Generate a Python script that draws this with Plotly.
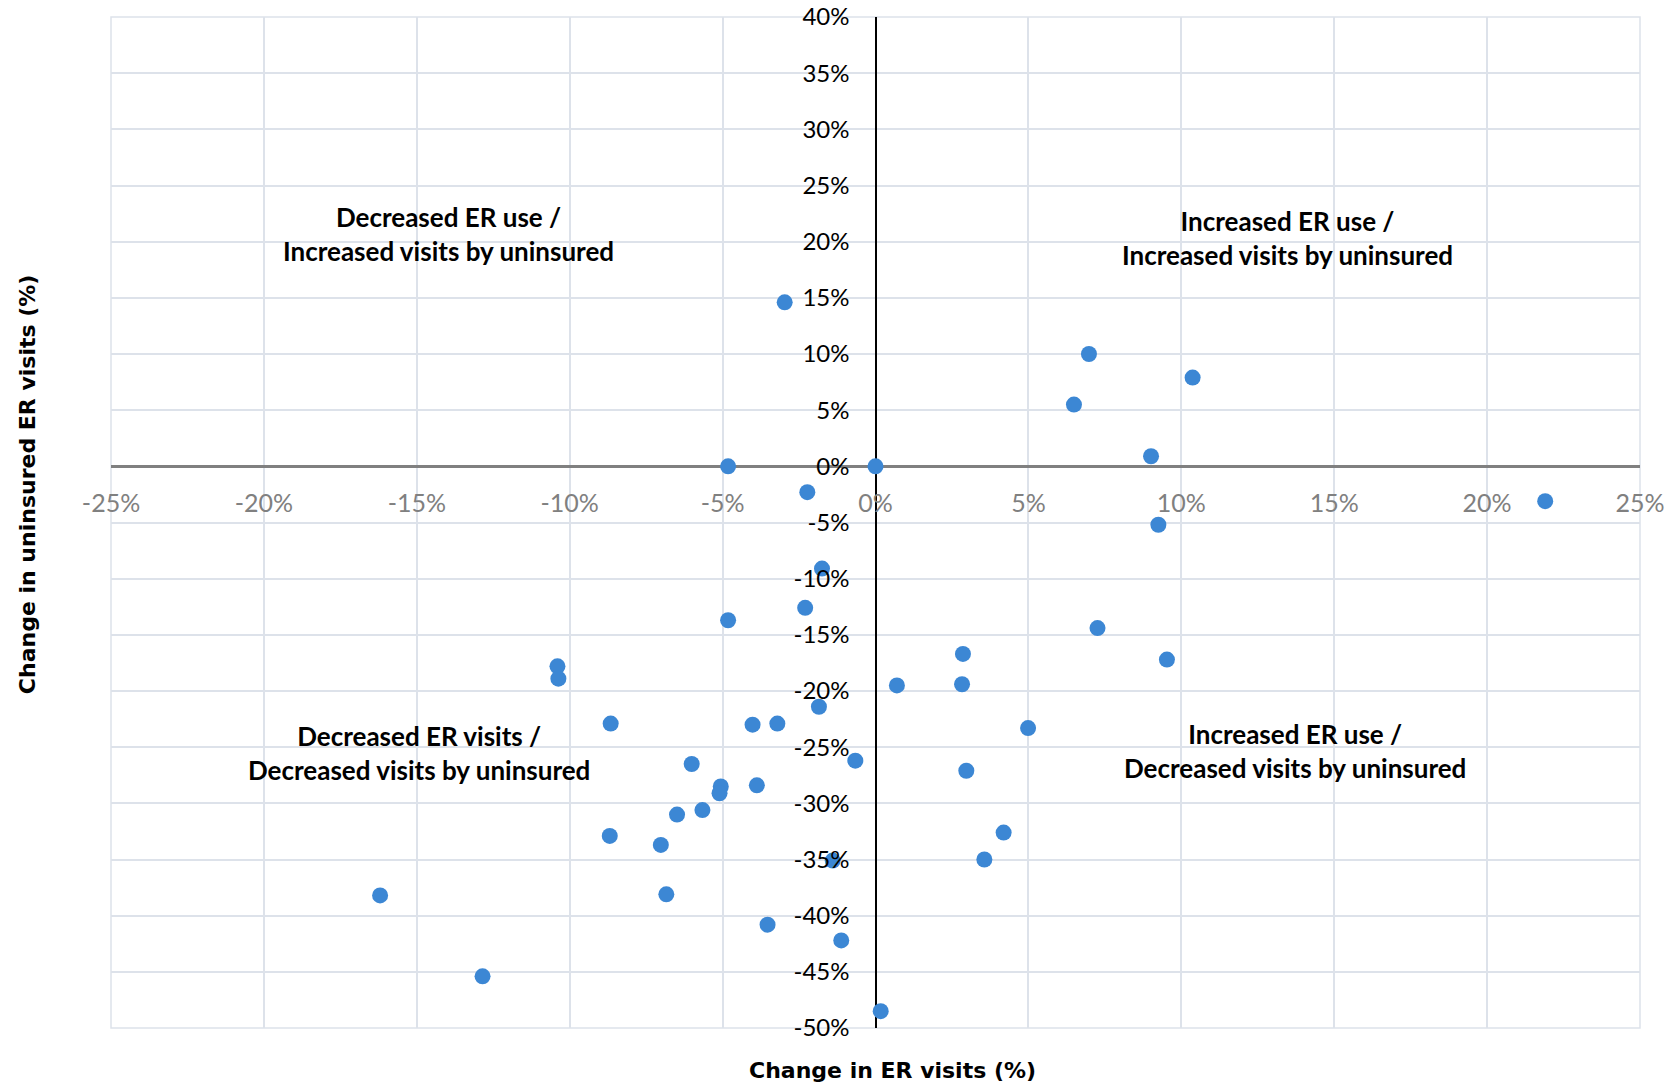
import plotly.graph_objects as go

# Change in ER visits (%) and change in uninsured ER visits (%)
er_change = [-2.97, -4.82, 0.0, -2.23, 6.98, 10.37, 6.49, 9.01, 21.9, 9.25,
             -1.75, -2.30, -4.82, 7.26, 9.53, 2.86, -10.40, -10.37, 0.70, 2.83,
             -1.85, -8.66, -4.02, -3.21, 4.99, -6.01, -0.66, 2.97, -5.06, -3.88,
             -5.10, -5.66, -6.49, 4.19, -8.69, -7.02, -1.40, 3.56, -16.2, -6.84,
             -3.53, -1.12, -12.85, 0.17]
uninsured_change = [14.6, 0.0, 0.0, -2.3, 10.0, 7.9, 5.5, 0.9, -3.1, -5.2,
                    -9.1, -12.6, -13.7, -14.4, -17.2, -16.7, -17.8, -18.9, -19.5, -19.4,
                    -21.4, -22.9, -23.0, -22.9, -23.3, -26.5, -26.2, -27.1, -28.5, -28.4,
                    -29.1, -30.6, -31.0, -32.6, -32.9, -33.7, -35.1, -35.0, -38.2, -38.1,
                    -40.8, -42.2, -45.4, -48.5]

x_ticks = [-25, -20, -15, -10, -5, 0, 5, 10, 15, 20, 25]
y_ticks = [-50, -45, -40, -35, -30, -25, -20, -15, -10, -5, 0, 5, 10, 15, 20, 25, 30, 35, 40]

quadrant_labels = [
    ("Decreased ER use /<br>Increased visits by uninsured", -13.95, 20.7),
    ("Increased ER use /<br>Increased visits by uninsured", 13.46, 20.3),
    ("Decreased ER visits /<br>Decreased visits by uninsured", -14.93, -25.5),
    ("Increased ER use /<br>Decreased visits by uninsured", 13.72, -25.3),
]

GRID = "#DDE2EA"

fig = go.Figure()
fig.add_trace(go.Scatter(
    x=er_change, y=uninsured_change, mode="markers",
    marker=dict(size=16, color="#3C87D4", line=dict(width=0)),
    showlegend=False, cliponaxis=False,
))

for text, qx, qy in quadrant_labels:
    fig.add_annotation(x=qx, y=qy, xref="x", yref="y", text="<b>" + text + "</b>",
                       showarrow=False, align="center",
                       font=dict(family="Lato", size=26, color="#000000"))

fig.add_annotation(x=0.511, y=-0.0425, xref="paper", yref="paper", yanchor="middle",
                   text="<b>Change in ER visits (%)</b>", showarrow=False,
                   font=dict(family="DejaVu Sans", size=22, color="#000000"))
fig.add_annotation(x=-0.0549, y=0.538, xref="paper", yref="paper", textangle=-90,
                   xanchor="center", yanchor="middle",
                   text="<b>Change in uninsured ER visits (%)</b>", showarrow=False,
                   font=dict(family="DejaVu Sans", size=22, color="#000000"))

# plot-area border in the gridline colour (edge gridlines)
fig.add_shape(type="rect", xref="paper", yref="paper", x0=0, x1=1, y0=0, y1=1,
              line=dict(color=GRID, width=1.5), layer="below")

fig.update_layout(
    width=1667, height=1080,
    margin=dict(l=103, r=35, t=9, b=60, autoexpand=False),
    paper_bgcolor="white", plot_bgcolor="white",
    xaxis=dict(
        range=[-25, 25], tickvals=x_ticks, ticktext=[f"{v}%" for v in x_ticks],
        showgrid=True, gridcolor=GRID, gridwidth=1.5,
        zeroline=True, zerolinecolor="#000000", zerolinewidth=2,
        showline=False, anchor="free", position=50 / 90, automargin=False,
        ticks="", ticklabelstandoff=20, ticklabeloverflow="allow",
        tickfont=dict(family="Lato", size=25, color="#808080"),
    ),
    yaxis=dict(
        range=[-50, 40], tickvals=y_ticks, ticktext=[f"{v}%" for v in y_ticks],
        showgrid=True, gridcolor=GRID, gridwidth=1.5,
        zeroline=True, zerolinecolor="#808080", zerolinewidth=2.5,
        showline=False, anchor="free", position=0.5, automargin=False,
        ticks="", ticklabelstandoff=26, ticklabeloverflow="allow",
        tickfont=dict(family="Lato", size=24, color="#000000"),
    ),
)

fig.write_html("out.html")
